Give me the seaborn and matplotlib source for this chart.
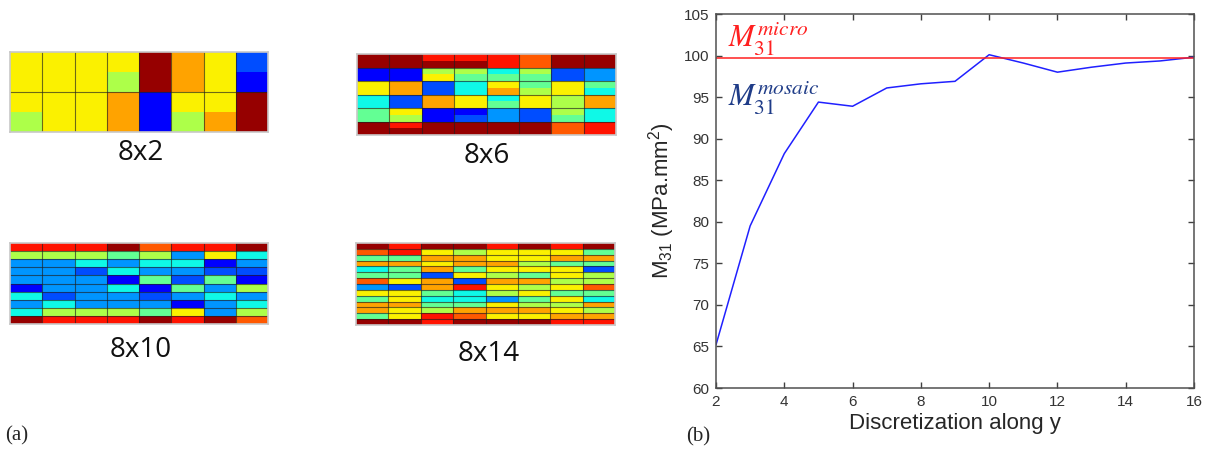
import numpy as np
import seaborn as sns
import matplotlib.pyplot as plt

# jet colour positions of the tiles (stiffness levels)
lvl = {'DR': 0.98, 'R': 0.89, 'OR': 0.815, 'O': 0.735, 'Y': 0.655, 'G': 0.56,
       'T': 0.47, 'C': 0.37, 'LB': 0.27, 'MB': 0.2, 'B': 0.12}

# 8x2 mosaic, each row split in two sub-rows
mosaic_8x2 = ["Y Y Y Y DR O Y MB",
              "Y Y Y G DR O Y B",
              "Y Y Y O B Y Y DR",
              "G Y Y O B G O DR"]

# 8x6 mosaic, each row split in two sub-rows
mosaic_8x6 = ["DR DR R R R OR DR DR",
              "DR DR DR DR R OR DR DR",
              "B B G G C G MB LB",
              "B B Y T T T MB LB",
              "Y O MB C Y T Y T",
              "Y O MB C O G Y C",
              "C MB O Y C Y G O",
              "C MB O Y T Y G O",
              "T Y B B LB MB G C",
              "T G B MB LB MB T C",
              "DR R DR DR DR DR OR R",
              "DR DR DR DR DR DR OR R"]

mosaic_8x10 = ["R R R DR OR R R DR",
               "G G G T G LB Y C",
               "LB LB C LB C C B LB",
               "LB LB MB C LB LB MB MB",
               "LB LB LB B T MB T B",
               "B LB LB C B T LB G",
               "C MB LB LB MB LB C LB",
               "LB C LB LB LB B LB C",
               "C G G G T Y LB G",
               "DR R R R DR R DR OR"]

mosaic_8x14 = ["DR R DR DR R DR R DR",
               "OR R Y G Y Y Y T",
               "T T O O Y Y O O",
               "O O Y O O G T T",
               "C T O T Y Y Y MB",
               "T T MB Y G T Y G",
               "OR Y O MB O O G G",
               "LB MB O R Y G Y OR",
               "Y Y T C G Y T T",
               "T Y C C LB T Y C",
               "O O T T Y G G O",
               "O Y G O O O Y G",
               "T Y R OR Y Y O O",
               "DR DR R DR DR DR R R"]

mosaic_names = ["8x2", "8x6", "8x10", "8x14"]
mosaic_rows = [2, 6, 10, 14]

# panel (b)
disc = [2, 3, 4, 5, 6, 7, 8, 9, 10, 11, 12, 13, 14, 15, 16]
m31_mosaic = [65.2, 79.5, 88.2, 94.4, 93.9, 96.1, 96.6, 96.9, 100.1, 99.1,
              98.0, 98.6, 99.1, 99.35, 99.8]
m31_micro = 99.7

sns.set_theme(style="ticks")
plt.rcParams['font.family'] = ['Liberation Sans', 'DejaVu Sans']
plt.rcParams['mathtext.fontset'] = 'stix'

W, H = 1209, 450
fig = plt.figure(figsize=(W / 100, H / 100), dpi=100)


def px_axes(x0, y0, x1, y1):
    return fig.add_axes([x0 / W, 1 - y1 / H, (x1 - x0) / W, (y1 - y0) / H])


boxes = [(10, 52, 268, 132), (357, 54, 616, 135),
         (10, 243, 268, 324), (356, 243, 615, 325)]
label_pos = [(141, 153), (487, 156), (141, 350), (489, 354)]
mosaics = [mosaic_8x2, mosaic_8x6, mosaic_8x10, mosaic_8x14]

for data, name, nrow, box, lp in zip(mosaics, mosaic_names, mosaic_rows, boxes, label_pos):
    ax = px_axes(*box)
    arr = np.array([[lvl[c] for c in row.split()] for row in data])
    sns.heatmap(arr, ax=ax, cmap='jet', vmin=0, vmax=1, cbar=False,
                xticklabels=False, yticklabels=False)
    fine = arr.shape[0]
    sub = fine // nrow
    ax.vlines(range(1, 8), 0, fine, color='#202020', lw=0.8, alpha=0.65)
    ax.hlines([i * sub for i in range(1, nrow)], 0, 8, color='#202020', lw=0.8, alpha=0.65)
    for s in ax.spines.values():
        s.set_visible(True)
        s.set_color('#c8c8c8')
        s.set_linewidth(1.2)
    fig.text(lp[0] / W, 1 - lp[1] / H, name, ha='center', va='center',
             fontsize=20, family=['Open Sans', 'DejaVu Sans'], color='#111111')

# panel (b) line chart
ax = px_axes(716, 14, 1194, 388)
sns.lineplot(x=disc, y=m31_mosaic, ax=ax, color='#2020ff', lw=1.1)
ax.axhline(m31_micro, color='#ff2020', lw=1.1)
ax.set_xlim(2, 16)
ax.set_ylim(60, 105)
ax.set_xticks(range(2, 17, 2))
ax.set_yticks(range(60, 106, 5))
ax.tick_params(direction='in', top=True, right=True, length=4, width=1,
               labelsize=11, labelcolor='#333333', color='#404040', pad=5)
for s in ax.spines.values():
    s.set_visible(True)
    s.set_color('#505050')
    s.set_linewidth(1.1)
ax.set_xlabel("Discretization along y", fontsize=16, labelpad=3)
ax.set_ylabel(r"M$\mathregular{_{31}}$ (MPa.mm$\mathregular{^2}$)", fontsize=16, labelpad=5)

ax.text(2.35, 100.9, r"$M_{31}^{micro}$", color='#ff2020', fontsize=22, va='baseline')
ax.text(2.35, 93.9, r"$M_{31}^{mosaic}$", color='#1f3c88', fontsize=22, va='baseline')

fig.text(5 / W, 1 - 440 / H, "(a)", fontsize=15, family='Liberation Serif', va='baseline')
fig.text(686 / W, 1 - 441 / H, "(b)", fontsize=15, family='Liberation Serif', va='baseline')

fig.savefig("out.png", dpi=100)
